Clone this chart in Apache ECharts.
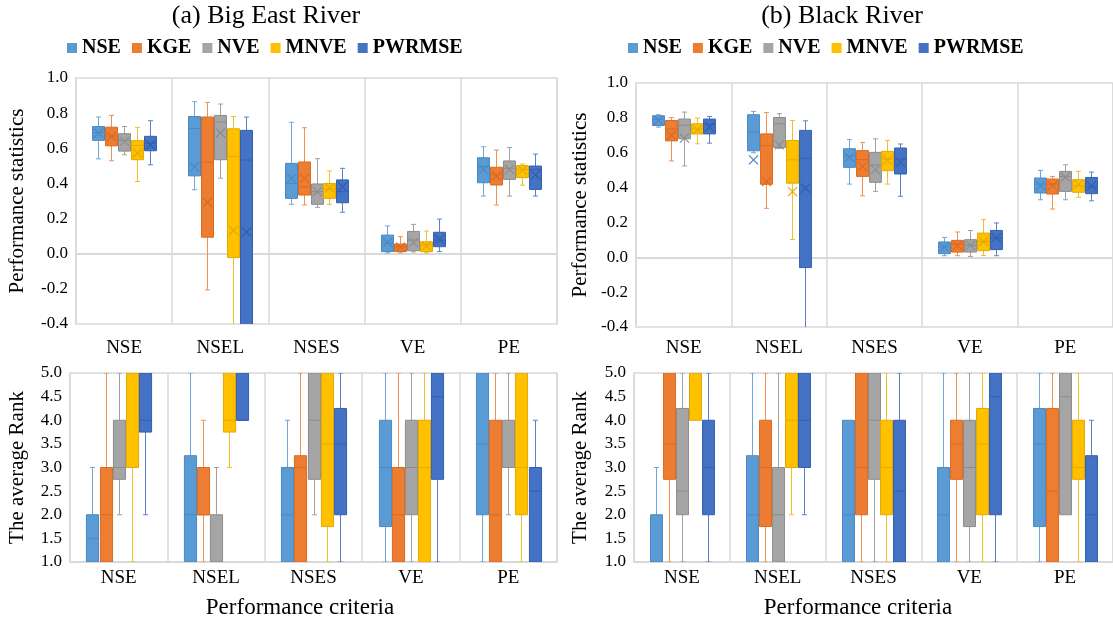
<!DOCTYPE html>
<html>
<head>
<meta charset="utf-8">
<script src="https://cdn.jsdelivr.net/npm/echarts@6/dist/echarts.min.js"></script>
<style>
  html, body { margin: 0; padding: 0; background: #fff; }
  #chart { width: 1113px; height: 624px; }
</style>
</head>
<body>
<div id="chart"></div>
<script>
// Criteria on the x axes and the calibration objectives (one box per objective)
const criteria = ['NSE', 'NSEL', 'NSES', 'VE', 'PE'];
const methods = ['NSE', 'KGE', 'NVE', 'MNVE', 'PWRMSE'];

// Value-axis ranges: [min, max, step]
const statAxisRange = [-0.4, 1.0, 0.2];
const rankAxisRange = [1.0, 5.0, 0.5];

// Big East River, performance statistics: [min, Q1, median, Q3, max, mean] per criterion
const bigEastStat_NSE    = [[0.540, 0.645, 0.690, 0.724, 0.778, 0.687], [0.364, 0.443, 0.713, 0.781, 0.865, 0.493], [0.281, 0.315, 0.400, 0.514, 0.748, 0.429], [0.005, 0.012, 0.060, 0.106, 0.158, 0.063], [0.328, 0.404, 0.495, 0.546, 0.609, 0.480]];
const bigEastStat_KGE    = [[0.529, 0.614, 0.670, 0.720, 0.787, 0.667], [-0.206, 0.094, 0.521, 0.778, 0.861, 0.293], [0.277, 0.334, 0.381, 0.522, 0.717, 0.429], [0.005, 0.012, 0.040, 0.055, 0.097, 0.037], [0.277, 0.391, 0.450, 0.492, 0.590, 0.442]];
const bigEastStat_NVE    = [[0.563, 0.584, 0.645, 0.683, 0.724, 0.639], [0.430, 0.535, 0.749, 0.787, 0.852, 0.687], [0.264, 0.281, 0.353, 0.397, 0.541, 0.353], [0.010, 0.017, 0.078, 0.127, 0.167, 0.063], [0.328, 0.423, 0.486, 0.528, 0.605, 0.480]];
const bigEastStat_MNVE   = [[0.411, 0.535, 0.616, 0.643, 0.719, 0.573], [-0.600, -0.022, 0.554, 0.711, 0.781, 0.132], [0.281, 0.315, 0.368, 0.400, 0.471, 0.375], [0.005, 0.012, 0.050, 0.068, 0.129, 0.044], [0.390, 0.433, 0.480, 0.501, 0.510, 0.476]];
const bigEastStat_PWRMSE = [[0.506, 0.586, 0.629, 0.668, 0.757, 0.620], [-0.900, -0.450, 0.533, 0.702, 0.778, 0.122], [0.236, 0.290, 0.353, 0.420, 0.486, 0.381], [0.012, 0.040, 0.078, 0.122, 0.197, 0.082], [0.328, 0.366, 0.480, 0.499, 0.567, 0.448]];

// Black River, performance statistics: [min, Q1, median, Q3, max, mean] per criterion
const blackStat_NSE    = [[0.747, 0.756, 0.790, 0.812, 0.818, 0.785], [0.600, 0.611, 0.720, 0.818, 0.837, 0.559], [0.420, 0.516, 0.580, 0.623, 0.675, 0.575], [0.009, 0.021, 0.060, 0.088, 0.114, 0.059], [0.330, 0.369, 0.420, 0.455, 0.499, 0.411]];
const blackStat_KGE    = [[0.553, 0.668, 0.735, 0.785, 0.802, 0.699], [0.281, 0.419, 0.641, 0.708, 0.831, 0.434], [0.353, 0.464, 0.560, 0.612, 0.659, 0.522], [0.009, 0.030, 0.076, 0.097, 0.145, 0.068], [0.277, 0.363, 0.420, 0.449, 0.464, 0.411]];
const blackStat_NVE    = [[0.524, 0.680, 0.758, 0.793, 0.833, 0.684], [0.624, 0.630, 0.766, 0.802, 0.824, 0.645], [0.378, 0.430, 0.530, 0.602, 0.680, 0.503], [0.005, 0.030, 0.068, 0.101, 0.154, 0.068], [0.330, 0.378, 0.464, 0.493, 0.531, 0.459]];
const blackStat_MNVE   = [[0.651, 0.708, 0.737, 0.766, 0.799, 0.731], [0.102, 0.425, 0.559, 0.670, 0.785, 0.377], [0.420, 0.497, 0.564, 0.608, 0.671, 0.556], [0.010, 0.038, 0.090, 0.139, 0.216, 0.090], [0.344, 0.373, 0.411, 0.445, 0.493, 0.420]];
const blackStat_PWRMSE = [[0.655, 0.708, 0.764, 0.793, 0.808, 0.747], [-0.700, -0.059, 0.568, 0.728, 0.783, 0.396], [0.350, 0.478, 0.564, 0.627, 0.650, 0.545], [0.009, 0.044, 0.111, 0.154, 0.197, 0.111], [0.324, 0.365, 0.405, 0.458, 0.489, 0.410]];

// Big East River, average rank: [min, Q1, median, Q3, max] per criterion
const bigEastRank_NSE    = [[1, 1, 1.5, 2, 3], [1, 1, 2, 3.25, 5], [1, 1, 2, 3, 4], [1, 1.75, 3, 4, 5], [1, 2, 3.5, 5, 5]];
const bigEastRank_KGE    = [[1, 1, 2, 3, 5], [1, 2, 2, 3, 4], [1, 1, 3, 3.25, 5], [1, 1, 2, 3, 5], [1, 1, 2, 4, 5]];
const bigEastRank_NVE    = [[2, 2.75, 3, 4, 5], [1, 1, 1, 2, 3], [2, 2.75, 4, 5, 5], [1, 2, 3, 4, 5], [2, 3, 3, 4, 5]];
const bigEastRank_MNVE   = [[1, 3, 5, 5, 5], [3, 3.75, 4, 5, 5], [1, 1.75, 3.5, 5, 5], [1, 1, 3, 4, 5], [1, 2, 3, 5, 5]];
const bigEastRank_PWRMSE = [[2, 3.75, 4, 5, 5], [4, 4, 4, 5, 5], [1, 2, 3.5, 4.25, 5], [1, 2.75, 4.5, 5, 5], [1, 1, 2.5, 3, 4]];

// Black River, average rank: [min, Q1, median, Q3, max] per criterion
const blackRank_NSE    = [[1, 1, 1, 2, 3], [1, 1, 2, 3.25, 5], [1, 1, 2, 4, 4], [1, 1, 2, 3, 5], [1, 1.75, 3.5, 4.25, 5]];
const blackRank_KGE    = [[1, 2.75, 3.5, 5, 5], [1, 1.75, 3, 4, 5], [1, 2, 3, 5, 5], [1, 2.75, 3.5, 4, 5], [1, 1, 2.5, 4.25, 5]];
const blackRank_NVE    = [[1, 2, 2.5, 4.25, 5], [1, 1, 2, 3, 5], [1, 2.75, 4, 5, 5], [1, 1.75, 3, 4, 5], [2, 2, 4.5, 5, 5]];
const blackRank_MNVE   = [[4, 4, 5, 5, 5], [2, 3, 4, 5, 5], [1, 2, 3, 4, 5], [1, 2, 3.5, 4.25, 5], [1, 2.75, 3, 4, 5]];
const blackRank_PWRMSE = [[1, 2, 3, 4, 5], [2, 3, 4, 5, 5], [1, 1, 2.5, 4, 5], [1, 2, 4.5, 5, 5], [1, 1, 2, 3.25, 4]];

const SERIF = '"Times New Roman", "Liberation Serif", "DejaVu Serif", serif';
const palette = [
  { fill: '#5B9BD5', edge: '#4A88C2', whisker: '#6FA6DA' },
  { fill: '#ED7D31', edge: '#D96A22', whisker: '#EE9257' },
  { fill: '#A5A5A5', edge: '#8C8C8C', whisker: '#A0A0A0' },
  { fill: '#FFC000', edge: '#E3A900', whisker: '#F2BE2A' },
  { fill: '#4472C4', edge: '#345FAE', whisker: '#5A82CA' }
];

function seg(x1, y1, x2, y2, style) {
  return { type: 'line', shape: { x1: x1, y1: y1, x2: x2, y2: y2 }, style: style };
}

// One box-and-whisker glyph, placed by the axis scales, offset by its slot in the group
function drawBox(api, slot, showMean) {
  const cat = api.value(0);
  const band = api.size([1, 0])[0];
  const step = band * 0.135;
  const bw = step - 1;
  const cx = Math.round(api.coord([cat, 0])[0] + (slot - 2) * step) + 0.5;
  const yOf = v => api.coord([cat, v])[1];
  const yMin = yOf(api.value(1)), yQ1 = yOf(api.value(2)), yMed = yOf(api.value(3));
  const yQ3 = yOf(api.value(4)), yMax = yOf(api.value(5));
  const c = palette[slot];
  const wStyle = { stroke: c.whisker, lineWidth: 1 };
  const cap = 2.5;
  const kids = [];
  if (yMax < yQ3 - 0.5) {
    kids.push(seg(cx, yMax, cx, yQ3, wStyle));
    kids.push(seg(cx - cap, yMax, cx + cap, yMax, wStyle));
  }
  if (yMin > yQ1 + 0.5) {
    kids.push(seg(cx, yQ1, cx, yMin, wStyle));
    kids.push(seg(cx - cap, yMin, cx + cap, yMin, wStyle));
  }
  kids.push({
    type: 'rect',
    shape: { x: cx - bw / 2, y: yQ3, width: bw, height: yQ1 - yQ3 },
    style: { fill: c.fill, stroke: c.edge, lineWidth: 1 }
  });
  kids.push(seg(cx - bw / 2, yMed, cx + bw / 2, yMed, { stroke: c.edge, lineWidth: 1 }));
  if (showMean) {
    const mv = api.value(6);
    if (isFinite(mv)) {
      const ym = yOf(mv);
      const h = 4.5;
      const mStyle = { stroke: c.edge, lineWidth: 1.2 };
      kids.push(seg(cx - h, ym - h, cx + h, ym + h, mStyle));
      kids.push(seg(cx - h, ym + h, cx + h, ym - h, mStyle));
    }
  }
  return { type: 'group', children: kids };
}

function panelSeries(gridIdx, tables, showMean) {
  return methods.map((m, slot) => ({
    type: 'custom',
    name: m,
    xAxisIndex: gridIdx,
    yAxisIndex: gridIdx,
    clip: true,
    itemStyle: { color: palette[slot].fill },
    encode: { x: 0, y: [1, 2, 3, 4, 5] },
    data: tables[slot].map((row, i) => [i].concat(row)),
    renderItem: (params, api) => drawBox(api, slot, showMean)
  }));
}

const tickFmt = v => (Math.abs(v) < 1e-9 ? 0 : v).toFixed(1);

function catAxis(gridIdx, margin, name) {
  const ax = {
    type: 'category',
    gridIndex: gridIdx,
    data: criteria,
    boundaryGap: true,
    axisTick: { show: false },
    axisLine: { show: true, lineStyle: { color: '#d9d9d9', width: 2 } },
    splitLine: { show: true, interval: 0, lineStyle: { color: '#d9d9d9', width: 1.5 } },
    axisLabel: { color: '#000', fontSize: 19, fontFamily: SERIF, margin: margin, interval: 0 }
  };
  if (name) {
    ax.name = name;
    ax.nameLocation = 'middle';
    ax.nameGap = 34;
    ax.nameTextStyle = { color: '#000', fontSize: 23, fontFamily: SERIF, padding: [0, gridIdx === 2 ? 27 : 31, 0, 0] };
  }
  return ax;
}

function valAxis(gridIdx, range, name, gap) {
  return {
    type: 'value',
    gridIndex: gridIdx,
    min: range[0], max: range[1], interval: range[2],
    axisLine: { show: false },
    axisTick: { show: false },
    splitLine: { show: false },
    axisLabel: { color: '#000', fontSize: 17, fontFamily: SERIF, margin: 8, formatter: tickFmt },
    name: name,
    nameLocation: 'middle',
    nameRotate: 90,
    nameGap: gap,
    nameTextStyle: { color: '#000', fontSize: 21, fontFamily: SERIF }
  };
}

const gridStyle = { show: true, borderColor: '#d9d9d9', borderWidth: 1.5, backgroundColor: '#fff' };

const legendBase = {
  data: methods,
  icon: 'rect',
  itemWidth: 10,
  itemHeight: 10,
  itemGap: 11,
  top: 33,
  textStyle: { color: '#000', fontSize: 20, fontWeight: 'bold', fontFamily: SERIF }
};

const option = {
  animation: false,
  backgroundColor: '#fff',
  graphic: [
    { type: 'text', x: 266, y: 3, style: { text: '(a) Big East River', fill: '#000', font: '26px ' + SERIF, textAlign: 'center', align: 'center', textVerticalAlign: 'top', verticalAlign: 'top' } },
    { type: 'text', x: 842, y: 3, style: { text: '(b) Black River', fill: '#000', font: '26px ' + SERIF, textAlign: 'center', align: 'center', textVerticalAlign: 'top', verticalAlign: 'top' } }
  ],
  legend: [
    Object.assign({}, legendBase, { left: 62 }),
    Object.assign({}, legendBase, { left: 623 })
  ],
  grid: [
    Object.assign({ left: 76, top: 78, width: 481, height: 246 }, gridStyle),
    Object.assign({ left: 636, top: 83, width: 480, height: 244 }, gridStyle),
    Object.assign({ left: 70, top: 373, width: 487, height: 189 }, gridStyle),
    Object.assign({ left: 634, top: 373, width: 484, height: 189 }, gridStyle)
  ],
  xAxis: [
    catAxis(0, 15),
    catAxis(1, 12),
    catAxis(2, 7, 'Performance criteria'),
    catAxis(3, 7, 'Performance criteria')
  ],
  yAxis: [
    valAxis(0, statAxisRange, 'Performance statistics', 48),
    valAxis(1, statAxisRange, 'Performance statistics', 45),
    valAxis(2, rankAxisRange, 'The average Rank', 42),
    valAxis(3, rankAxisRange, 'The average Rank', 43)
  ],
  series: [].concat(
    panelSeries(0, [bigEastStat_NSE, bigEastStat_KGE, bigEastStat_NVE, bigEastStat_MNVE, bigEastStat_PWRMSE], true),
    panelSeries(1, [blackStat_NSE, blackStat_KGE, blackStat_NVE, blackStat_MNVE, blackStat_PWRMSE], true),
    panelSeries(2, [bigEastRank_NSE, bigEastRank_KGE, bigEastRank_NVE, bigEastRank_MNVE, bigEastRank_PWRMSE], false),
    panelSeries(3, [blackRank_NSE, blackRank_KGE, blackRank_NVE, blackRank_MNVE, blackRank_PWRMSE], false)
  )
};

const chart = echarts.init(document.getElementById('chart'), null, { renderer: 'canvas' });
chart.setOption(option);
</script>
</body>
</html>
